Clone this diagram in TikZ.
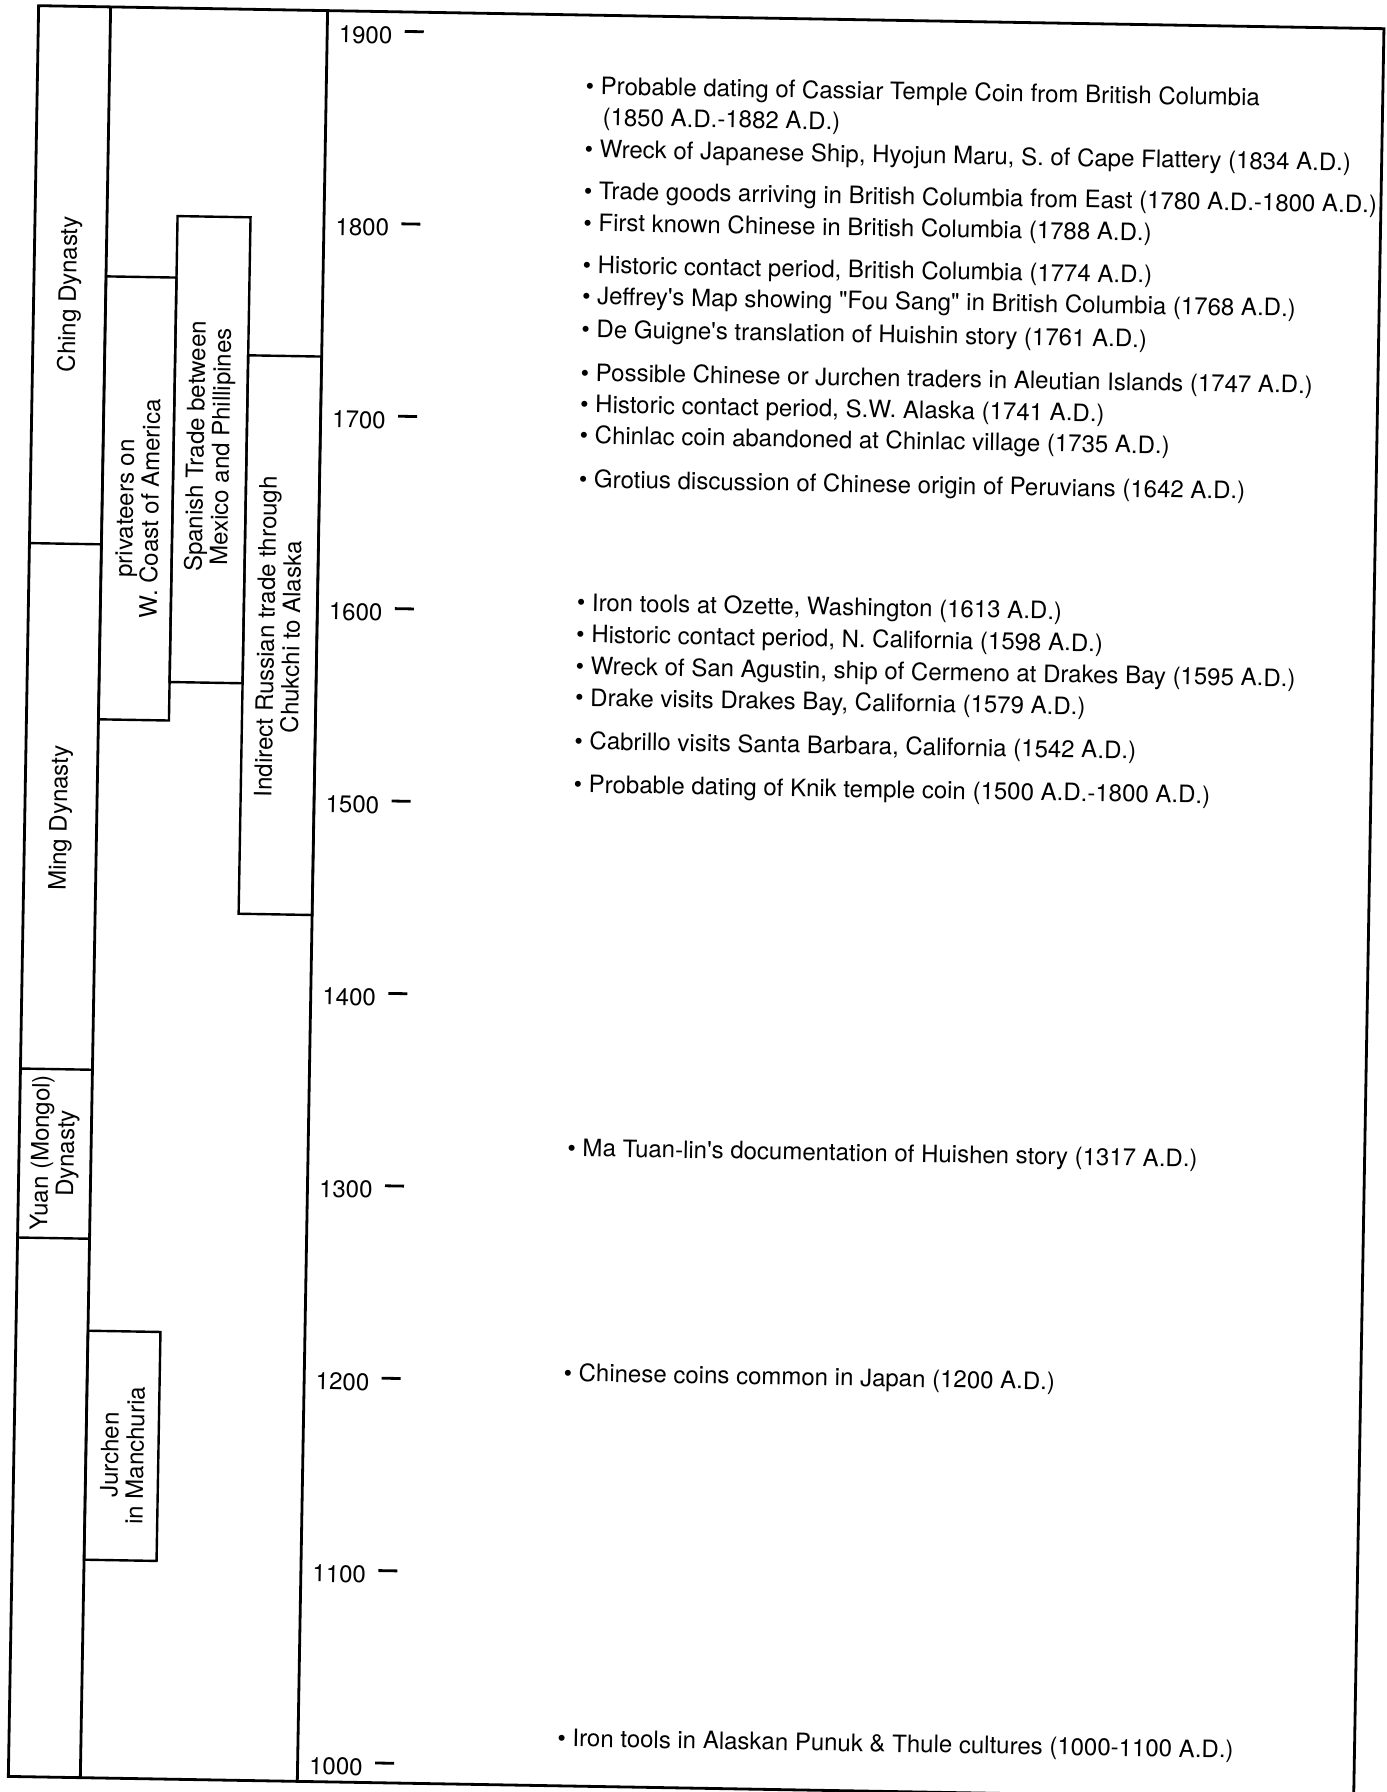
\documentclass[tikz,border=0pt]{standalone}
\usepackage{fontspec}
\newfontfamily\heros{TeX Gyre Heros}
\tikzset{
  frame/.style={line width=1.4pt},
  bar/.style={line width=1.2pt},
  barlabel/.style={rotate=90, align=center, inner sep=0pt},
  event/.style={anchor=base west, inner sep=0pt},
  yearlabel/.style={anchor=base east, inner sep=0pt},
}
\begin{document}
\begin{tikzpicture}[x=0.5pt, y=-0.5pt, font=\heros\fontsize{12}{12.7}\selectfont]
  \useasboundingbox (0,0) rectangle (1386,1792);
  % the scanned page sits a little askew
  \begin{scope}[rotate around={-0.98:(693,896)}, transform shape]
    \draw[frame] (23.5,17) rectangle (1369,1788);
    \draw[frame] (95.5,17) -- (95.5,1788);
    \draw[frame] (312.5,17) -- (312.5,1788);
    % dynasties
    \draw[bar] (23.5,554.5) -- (95.5,554.5)
               (23.5,1080) -- (95.5,1080)
               (23.5,1249) -- (95.5,1249);
    \node[barlabel] (ching) at (59.5,305) {Ching Dynasty};
    \node[barlabel] (ming) at (59.5,829) {Ming Dynasty};
    \node[barlabel] (yuan) at (59.5,1164) {Yuan (Mongol)\\Dynasty};
    % contacts
    \draw[bar] (95.5,286.5) rectangle (166,729.5);
    \draw[bar] (166,225) rectangle (239,691);
    \draw[bar] (239,363) rectangle (312.5,921.5);
    \draw[bar] (95.5,1341) rectangle (168,1570);
    \node[barlabel] (privateers) at (131,518) {privateers on\\W. Coast of America};
    \node[barlabel] (spanish) at (202.5,455) {Spanish Trade between\\Mexico and Phillipines};
    \node[barlabel] (russian) at (274,644) {Indirect Russian trade through\\Chukchi to Alaska};
    \node[barlabel] (jurchen) at (132,1465) {Jurchen\\in Manchuria};
    % time scale
    \foreach \yr in {1000,1100,...,1900}{
      \pgfmathsetmacro\ty{36.5+(1900-\yr)*1.9242}
      \node[yearlabel] (y\yr) at (378,\ty+12.5) {\yr};
      \draw[frame] (390,\ty) -- (409,\ty);
    }
    % events
    \foreach \n/\ey/\txt in {
      1/96.3/{Probable dating of Cassiar Temple Coin from British Columbia},
      2/159.6/{Wreck of Japanese Ship, Hyojun Maru, S. of Cape Flattery (1834 A.D.)},
      3/201.3/{Trade goods arriving in British Columbia from East (1780 A.D.-1800 A.D.)},
      4/233/{First known Chinese in British Columbia (1788 A.D.)},
      5/275.3/{Historic contact period, British Columbia (1774 A.D.)},
      6/306.3/{Jeffrey's Map showing "Fou Sang" in British Columbia (1768 A.D.)},
      7/339.6/{De Guigne's translation of Huishin story (1761 A.D.)},
      8/383/{Possible Chinese or Jurchen traders in Aleutian Islands (1747 A.D.)},
      9/414.6/{Historic contact period, S.W. Alaska (1741 A.D.)},
      10/445.6/{Chinlac coin abandoned at Chinlac village (1735 A.D.)},
      11/489.6/{Grotius discussion of Chinese origin of Peruvians (1642 A.D.)},
      12/613/{Iron tools at Ozette, Washington (1613 A.D.)},
      13/644.6/{Historic contact period, N. California (1598 A.D.)},
      14/676.3/{Wreck of San Agustin, ship of Cermeno at Drakes Bay (1595 A.D.)},
      15/708/{Drake visits Drakes Bay, California (1579 A.D.)},
      16/751.3/{Cabrillo visits Santa Barbara, California (1542 A.D.)},
      17/794.6/{Probable dating of Knik temple coin (1500 A.D.-1800 A.D.)},
      18/1158.3/{Ma Tuan-lin's documentation of Huishen story (1317 A.D.)},
      19/1383.3/{Chinese coins common in Japan (1200 A.D.)},
      20/1748.6/{Iron tools in Alaskan Punuk \& Thule cultures (1000-1100 A.D.)}}
      \node[event] (ev\n) at (571.5,\ey) {\textbullet\ \txt};
    \node[event] (ev1b) at (589,127.3) {(1850 A.D.-1882 A.D.)};
  \end{scope}
\end{tikzpicture}
\end{document}
